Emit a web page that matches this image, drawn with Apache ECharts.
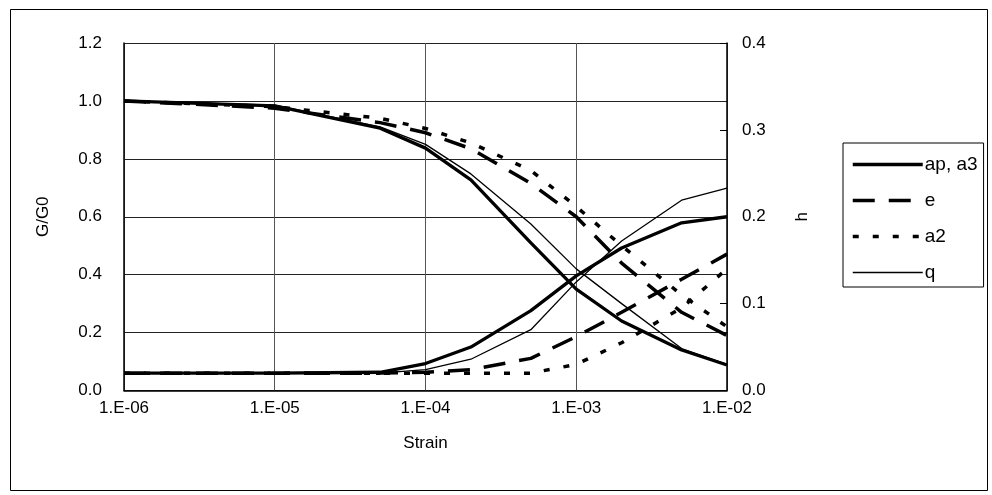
<!DOCTYPE html>
<html>
<head>
<meta charset="utf-8">
<script src="https://cdn.jsdelivr.net/npm/echarts@6/dist/echarts.min.js"></script>
<style>
html,body{margin:0;padding:0;background:#fff;}
#chart{width:992px;height:495px;}
</style>
</head>
<body>
<div id="chart"></div>
<script>
// Strain values (x, log scale)
var strain = [1e-6, 1e-5, 5e-5, 1e-4, 2e-4, 5e-4, 1e-3, 2e-3, 5e-3, 1e-2];
var seriesNames = ['ap, a3', 'e', 'a2', 'q'];
// G/G0 (left axis)
var gAp = [1.0, 0.983, 0.906, 0.837, 0.727, 0.51, 0.35, 0.24, 0.14, 0.088];
var gE  = [1.0, 0.975, 0.925, 0.89, 0.835, 0.715, 0.60, 0.44, 0.27, 0.19];
var gA2 = [1.0, 0.98, 0.94, 0.905, 0.855, 0.76, 0.635, 0.50, 0.33, 0.22];
var gQ  = [1.0, 0.985, 0.91, 0.85, 0.748, 0.575, 0.42, 0.30, 0.145, 0.09];
// h (right axis)
var hAp = [0.02, 0.02, 0.021, 0.031, 0.05, 0.092, 0.132, 0.164, 0.193, 0.2];
var hE  = [0.02, 0.02, 0.02, 0.021, 0.024, 0.037, 0.062, 0.09, 0.128, 0.157];
var hA2 = [0.02, 0.02, 0.02, 0.02, 0.02, 0.02, 0.03, 0.055, 0.095, 0.14];
var hQ  = [0.02, 0.02, 0.02, 0.024, 0.036, 0.07, 0.125, 0.172, 0.219, 0.233];
// axis tick labels
var leftTicks = [0, 0.2, 0.4, 0.6, 0.8, 1.0, 1.2];
var rightTicks = [0, 0.1, 0.2, 0.3, 0.4];

function pairs(ys) { return strain.map(function (x, i) { return [x, ys[i]]; }); }

var FONT = 'Liberation Sans, Arial, sans-serif';
var FS = 17;
var LFS = 19;
var styles = {
  'ap, a3': { width: 3.3, type: 'solid' },
  'e': { width: 3.5, type: [22, 14] },
  'a2': { width: 3.5, type: [6, 14] },
  'q': { width: 1.3, type: 'solid' }
};
var gData = { 'ap, a3': gAp, 'e': gE, 'a2': gA2, 'q': gQ };
var hData = { 'ap, a3': hAp, 'e': hE, 'a2': hA2, 'q': hQ };

var series = [];
seriesNames.forEach(function (n) {
  [[0, gData[n]], [1, hData[n]]].forEach(function (p) {
    series.push({
      name: n, type: 'line', xAxisIndex: 0, yAxisIndex: p[0], data: pairs(p[1]),
      symbol: 'none', showSymbol: false, silent: true, animation: false,
      itemStyle: { color: '#000', opacity: 0 },
      lineStyle: { color: '#000', width: styles[n].width, type: styles[n].type, cap: 'butt', opacity: 1 }
    });
  });
});

var chart = echarts.init(document.getElementById('chart'), null, { renderer: 'canvas' });
chart.setOption({
  animation: false,
  backgroundColor: '#fff',
  textStyle: { fontFamily: FONT },
  graphic: [{
    type: 'rect', left: 8, top: 7, silent: true,
    shape: { width: 977, height: 481 },
    style: { fill: 'none', stroke: '#000', lineWidth: 1 }
  }],
  grid: { left: 124, right: 265, top: 43, bottom: 104.5, containLabel: false },
  legend: {
    orient: 'vertical', left: 843, top: 143,
    padding: [12, 6, 5, 8],
    itemWidth: 70, itemHeight: 14, itemGap: 17,
    borderColor: '#000', borderWidth: 1, borderRadius: 0,
    selectedMode: false,
    itemStyle: { opacity: 0, borderWidth: 0 },
    textStyle: { fontSize: LFS, color: '#000', fontFamily: FONT, padding: [0, 0, 0, -3] },
    data: seriesNames.map(function (n) {
      return {
        name: n,
        itemStyle: { opacity: 0, borderWidth: 0 },
        lineStyle: { width: styles[n].width, type: styles[n].type, color: '#000', opacity: 1 }
      };
    })
  },
  xAxis: {
    type: 'log', logBase: 10, min: 1e-6, max: 1e-2,
    name: 'Strain', nameLocation: 'middle', nameGap: 44,
    nameTextStyle: { fontSize: FS, color: '#000', fontFamily: FONT },
    axisLine: { show: true, lineStyle: { color: '#000', width: 1.5 } },
    axisTick: { show: false },
    minorTick: { show: false },
    splitLine: { show: true, lineStyle: { color: '#555', width: 1 } },
    axisLabel: {
      fontSize: FS, color: '#000', margin: 9, fontFamily: FONT,
      formatter: function (v) {
        var e = Math.round(Math.log10(v));
        var s = Math.abs(e) < 10 ? '0' + Math.abs(e) : '' + Math.abs(e);
        return '1.E' + (e < 0 ? '-' : '+') + s;
      }
    }
  },
  yAxis: [{
    type: 'value', min: leftTicks[0], max: leftTicks[leftTicks.length - 1], interval: 0.2,
    position: 'left',
    name: 'G/G0', nameLocation: 'middle', nameGap: 72, nameRotate: 90,
    nameTextStyle: { fontSize: FS, color: '#000', fontFamily: FONT },
    axisLine: { show: true, lineStyle: { color: '#000', width: 1.5 } },
    axisTick: { show: false },
    splitLine: { show: true, lineStyle: { color: '#222', width: 1 } },
    axisLabel: { fontSize: FS, color: '#000', margin: 22, fontFamily: FONT,
      formatter: function (v) { return v.toFixed(1); } }
  }, {
    type: 'value', min: rightTicks[0], max: rightTicks[rightTicks.length - 1], interval: 0.1,
    position: 'right',
    name: 'h', nameLocation: 'middle', nameGap: 67, nameRotate: 90,
    nameTextStyle: { fontSize: FS, color: '#000', fontFamily: FONT },
    axisLine: { show: true, lineStyle: { color: '#000', width: 1.5 } },
    axisTick: { show: true, inside: true, length: 7, lineStyle: { color: '#000' } },
    splitLine: { show: false },
    axisLabel: { fontSize: FS, color: '#000', margin: 15, fontFamily: FONT,
      formatter: function (v) { return v.toFixed(1); } }
  }],
  series: series
});
</script>
</body>
</html>
